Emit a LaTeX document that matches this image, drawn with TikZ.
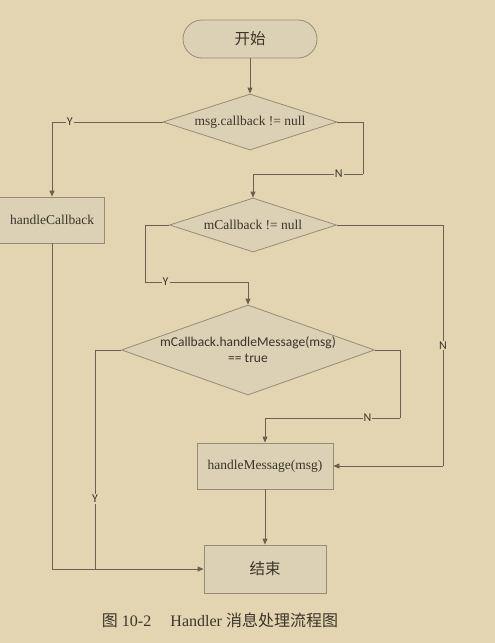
\documentclass[tikz,border=0pt]{standalone}
\usepackage{fontspec}
\setmainfont{Liberation Serif}
\newfontfamily\cjk{Noto Sans CJK SC}
\newfontfamily\calib{Carlito}
\usetikzlibrary{positioning,arrows.meta,calc,shapes.misc,shapes.geometric}
\definecolor{cPaper}{HTML}{E3D5B1}
\definecolor{cBox}{HTML}{DCD1B5}
\definecolor{cEdge}{HTML}{978D76}
\definecolor{cLine}{HTML}{6B6150}
\definecolor{cInk}{HTML}{3B3428}

\tikzset{
  procbox/.style={draw=cEdge,fill=cBox,line width=0.8pt,text=cInk,
    minimum width=#1,minimum height=46pt,inner sep=2pt,
    font=\fontsize{13.5}{15}\selectfont},
  procbox/.default=120pt,
  termbox/.style={draw=cEdge,fill=cBox,line width=0.8pt,text=cInk,
    rounded corners=19pt,minimum width=134pt,minimum height=38pt,
    font=\cjk\fontsize{15.5}{17}\selectfont},
  decide/.style={diamond,draw=cEdge,fill=cBox,line width=0.8pt,text=cInk,
    inner sep=0pt,font=\fontsize{13.5}{15}\selectfont},
  flow/.style={draw=cLine,line width=0.8pt,-{Triangle[length=6pt,width=5pt]}},
  link/.style={draw=cLine,line width=0.8pt},
  yn/.style={fill=cPaper,inner sep=1pt,text=cInk,font=\calib\fontsize{12}{13}\selectfont},
}

\begin{document}
\begin{tikzpicture}[x=1pt,y=-1pt]
  \fill[cPaper] (0,0) rectangle (495,643);
  \useasboundingbox (0,0) rectangle (495,643);

  % nodes
  \node[termbox] (start) at (250,39) {开始};
  \node[decide,aspect=3.1,minimum width=174pt,minimum height=56pt] (d1) at (250,122) {msg.callback != null};
  \node[procbox=105pt] (hcb) at (52,220) {handleCallback};
  \node[decide,aspect=3.1,minimum width=167pt,minimum height=54pt] (d2) at (253,225) {mCallback != null};
  \node[decide,aspect=2.8,minimum width=253pt,minimum height=90pt,align=center,
        font=\calib\fontsize{13.5}{16}\selectfont] (d3) at (248,350)
        {mCallback.handleMessage(msg)\\== true};
  \node[procbox=136pt] (hm) at (265,466) {handleMessage(msg)};
  \node[procbox=122pt,minimum height=48pt,font=\cjk\fontsize{15.5}{17}\selectfont] (endb) at (265,569) {结束};
  \node[text=cInk,font=\fontsize{16}{18}\selectfont] (cap) at (220,620)
        {{\cjk 图} 10-2\hspace{1.2em}Handler {\cjk 消息处理流程图}};

  % bends
  \coordinate (k1) at (363,174);
  \coordinate (k2) at (145,282);
  \coordinate (k3) at (443,466);
  \coordinate (k4) at (400,418);
  \coordinate (j3) at (95,569);

  % connectors
  \draw[flow] (start) -- (d1);
  \draw[flow] (d1.west) -| node[yn,pos=0.42]{Y} (hcb.north);
  \draw[flow] (hcb.south) |- (endb.west);
  \draw[link] (d1.east) -| (k1);
  \draw[flow] (k1) -| node[yn,pos=0.11]{N} (d2.north);
  \draw[link] (d2.west) -| (k2);
  \draw[flow] (k2) -| node[yn,pos=0.1]{Y} (d3.north);
  \draw[link] (d2.east) -| node[yn,pos=0.75]{N} (k3);
  \draw[flow] (k3) -- (hm.east);
  \draw[link] (d3.east) -| (k4);
  \draw[flow] (k4) -| node[yn,pos=0.12]{N} (hm.north);
  \draw[link] (d3.west) -| node[yn,pos=0.84]{Y} (j3);
  \draw[flow] (hm) -- (endb);
\end{tikzpicture}
\end{document}
